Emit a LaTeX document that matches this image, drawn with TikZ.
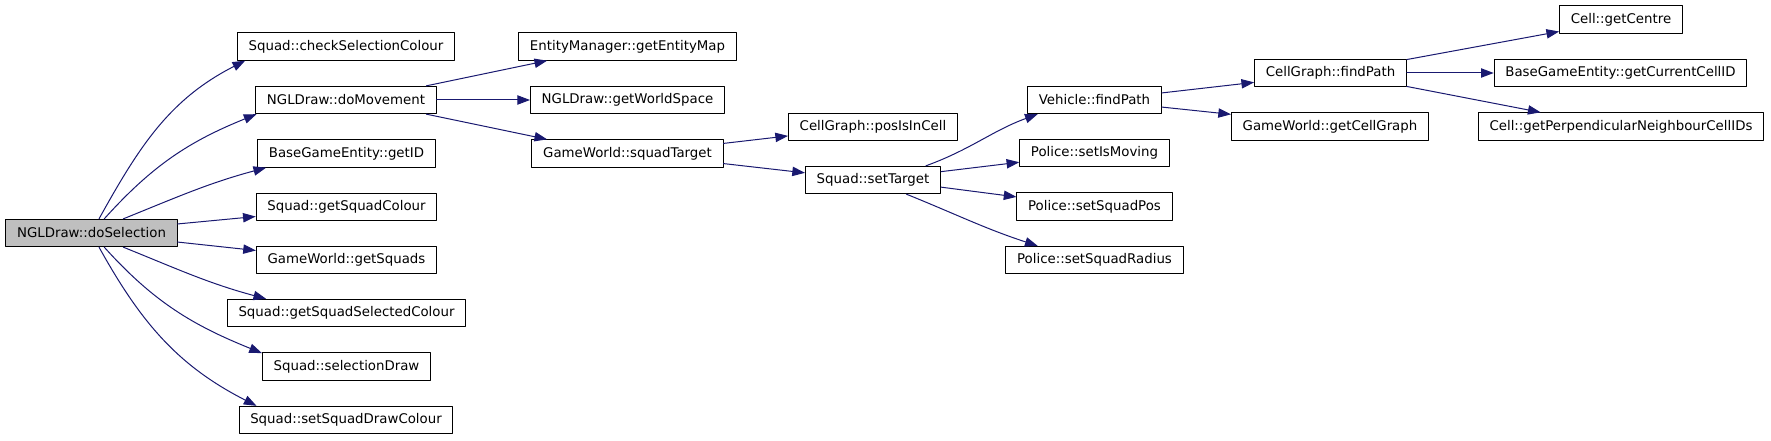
\documentclass[tikz,border=0pt]{standalone}
\usepackage{fontspec}
\setmainfont{DejaVu Sans}
\usetikzlibrary{arrows.meta}
\definecolor{xanhdam}{HTML}{191970}
\begin{document}
\begin{tikzpicture}[x=0.75pt, y=0.75pt, font=\fontsize{10}{12}\selectfont, line join=round, line cap=round,
	>={Triangle[length=9.5pt,width=7pt]},
	hop/.style={draw=black, line width=0.75pt, inner xsep=8.4pt, inner ysep=0pt, minimum height=20.5pt},
	noi/.style={->, draw=xanhdam, line width=0.75pt}]
	%Khung hình.
	\useasboundingbox (0,0) rectangle (1771,440);
	%Cột 1.
	\node[hop, fill=gray!50] (sel) at (91.5,207) {NGLDraw::doSelection};
	%Cột 2.
	\node[hop] (chk) at (346,393.5) {Squad::checkSelectionColour};
	\node[hop] (mov) at (346,340) {NGLDraw::doMovement};
	\node[hop] (gid) at (346.5,286.5) {BaseGameEntity::getID};
	\node[hop] (gsc) at (346.5,233) {Squad::getSquadColour};
	\node[hop] (gsq) at (346.5,180) {GameWorld::getSquads};
	\node[hop] (gssc) at (346.5,127) {Squad::getSquadSelectedColour};
	\node[hop] (sdr) at (346.5,73.5) {Squad::selectionDraw};
	\node[hop] (ssdc) at (346,20) {Squad::setSquadDrawColour};
	%Cột 3.
	\node[hop] (gem) at (627.5,393.5) {EntityManager::getEntityMap};
	\node[hop] (gws) at (627.5,340) {NGLDraw::getWorldSpace};
	\node[hop] (sqt) at (627.5,286.5) {GameWorld::squadTarget};
	%Cột 4.
	\node[hop] (pic) at (873,313) {CellGraph::posIsInCell};
	\node[hop] (stg) at (873,260) {Squad::setTarget};
	%Cột 5.
	\node[hop] (vfp) at (1094.5,340) {Vehicle::findPath};
	\node[hop] (psm) at (1094.5,287) {Police::setIsMoving};
	\node[hop] (psp) at (1094.5,233.5) {Police::setSquadPos};
	\node[hop] (psr) at (1094.5,180) {Police::setSquadRadius};
	%Cột 6.
	\node[hop] (cfp) at (1330.5,367) {CellGraph::findPath};
	\node[hop] (gcg) at (1330,313.5) {GameWorld::getCellGraph};
	%Cột 7.
	\node[hop] (gce) at (1621,420.5) {Cell::getCentre};
	\node[hop] (gcc) at (1620.5,367) {BaseGameEntity::getCurrentCellID};
	\node[hop] (gpn) at (1621,313.5) {Cell::getPerpendicularNeighbourCellIDs};
	%Lời gọi cong.
	\draw[noi] (sel.62) to[out=61,in=207] (chk.188);
	\draw[noi] (sel.48) to[out=48,in=202] (mov.189);
	\draw[noi] (sel.24) to[out=22,in=195] (gid.190);
	\draw[noi] (sel.-24) to[out=-22,in=165] (gssc.170);
	\draw[noi] (sel.-48) to[out=-48,in=158] (sdr.171);
	\draw[noi] (sel.-62) to[out=-61,in=153] (ssdc.171);
	\draw[noi] (stg.15.6) to[out=20,in=200] (vfp.194);
	\draw[noi] (stg.-23.6) to[out=-22,in=162] (psr.166);
	%Lời gọi thẳng.
	\foreach \tu/\den in {sel.6.3/gsc.186, sel.-6.6/gsq.174, mov.10.4/gem.190, mov.east/gws.west,
		mov.-10.4/sqt.170, sqt.6.3/pic.186, sqt.-6.3/stg.174, stg.7.3/psm.187, stg.-6.5/psp.173,
		vfp.6.8/cfp.187.5, vfp.-6.8/gcg.173, cfp.10.6/gce.191.7, cfp.east/gcc.west, cfp.-10.6/gpn.170.8}{
		\draw[noi] (\tu) -- (\den);
	}
\end{tikzpicture}
\end{document}
